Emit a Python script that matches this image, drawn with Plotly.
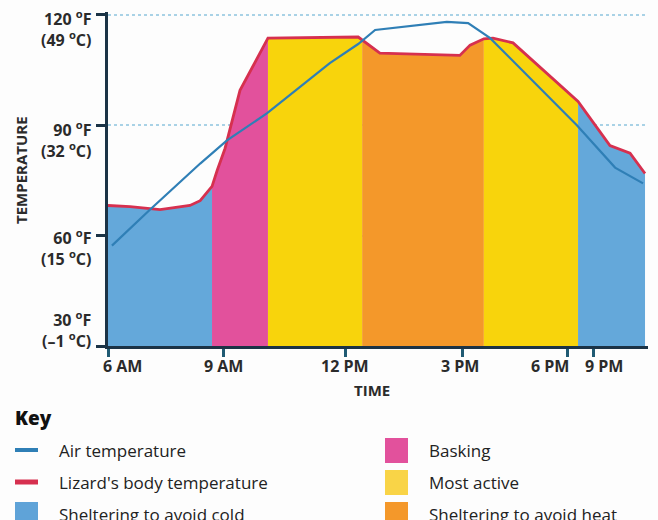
import plotly.graph_objs as go

# time axis: hours after 6 AM
tick_hours = [0.0, 2.94, 6.02, 9.01, 11.65, 12.31]
tick_labels = ['6 AM', '9 AM', '12 PM', '3 PM', '6 PM', '9 PM']
label_hours = [0.38, 2.94, 6.02, 8.93, 11.22, 12.59]

temp_ticks = [30, 60, 90, 120]
temp_labels = ['30 <sup>o</sup>F<br>(–1 <sup>o</sup>C)', '60 <sup>o</sup>F<br>(15 <sup>o</sup>C)',
               '90 <sup>o</sup>F<br>(32 <sup>o</sup>C)', '120 <sup>o</sup>F<br>(49 <sup>o</sup>C)']
temp_label_shift = [17, -12, -14, -14]

air_hours = [0.10, 1.07, 2.34, 3.02, 4.04, 5.63, 6.35, 6.78, 8.60, 9.14, 9.70, 11.90, 12.87, 13.58]
air_temp = [57.3, 67.1, 79.6, 85.9, 93.3, 106.9, 112.1, 115.9, 118.1, 117.8, 113.7, 90.0, 78.5, 74.2]

lizard_hours = [0.0, 0.56, 1.32, 2.08, 2.34, 2.64, 2.77, 2.97, 3.35, 4.06, 6.35, 6.45, 6.90,
                8.93, 9.19, 9.54, 9.77, 10.28, 10.96, 11.93, 12.74, 13.25, 13.63]
lizard_temp = [68.2, 67.9, 67.1, 68.2, 69.5, 73.4, 77.7, 83.7, 99.5, 113.7, 114.0, 113.2, 109.6,
               109.0, 111.8, 113.5, 113.7, 112.4, 105.8, 96.5, 84.5, 82.4, 76.9]

# behaviour zones (start hour, end hour, colour)
zone_start = [0.0, 2.64, 4.06, 6.45, 9.54, 11.93]
zone_end = [2.64, 4.06, 6.45, 9.54, 11.93, 13.63]
zone_color = ['#64a8da', '#e2519c', '#f8d40c', '#f4982a', '#f8d40c', '#64a8da']

key_names = ['Air temperature', "Lizard's body temperature", 'Sheltering to avoid cold',
             'Basking', 'Most active', 'Sheltering to avoid heat']
key_colors = ['#2f7fb6', '#d6304f', '#5fa3d8', '#e2519c', '#f9d447', '#f4982a']

AIR = '#2f7fb6'
LIZ = '#d6304f'
AXIS = '#1b3346'
TXT = '#2b2b2b'
FONT = 'Open Sans'

W, H = 658, 520
ML, MR, MT, MB = 108, 10, 12, 174
PX_PER_HOUR = 39.4
x_max = (W - ML - MR) / PX_PER_HOUR


def px_x(p):
    return (p - ML) / (W - ML - MR)


def px_y(p):
    return (H - MB - p) / (H - MT - MB)


data = []
for s, e, c in zip(zone_start, zone_end, zone_color):
    xs = [h for h in lizard_hours if s <= h <= e]
    ys = [t for h, t in zip(lizard_hours, lizard_temp) if s <= h <= e]
    data.append(go.Scatter(x=xs, y=ys, mode='none', fill='tozeroy', fillcolor=c,
                           showlegend=False, hoverinfo='skip'))

data.append(go.Scatter(x=lizard_hours, y=lizard_temp, mode='lines',
                       line=dict(color=LIZ, width=2.8), showlegend=False))
data.append(go.Scatter(x=air_hours, y=air_temp, mode='lines',
                       line=dict(color=AIR, width=2.2), showlegend=False))

annotations = []
for h, lab in zip(label_hours, tick_labels):
    annotations.append(dict(x=h, y=px_y(366), xref='x', yref='paper', text=lab, showarrow=False,
                            xanchor='center', yanchor='middle',
                            font=dict(family=FONT, size=16, color=TXT, weight='bold')))
for t, lab, sh in zip(temp_ticks, temp_labels, temp_label_shift):
    annotations.append(dict(x=px_x(93), y=t, xref='paper', yref='y', text=lab, showarrow=False,
                            xanchor='right', yanchor='middle', align='right', yshift=sh,
                            font=dict(family=FONT, size=16, color=TXT, weight='bold')))
annotations.append(dict(x=px_x(372), y=px_y(390), xref='paper', yref='paper', text='TIME',
                        xanchor='center', yanchor='middle', showarrow=False,
                        font=dict(family=FONT, size=15, color=TXT, weight='bold')))
annotations.append(dict(x=px_x(21), y=px_y(170), xref='paper', yref='paper', text='TEMPERATURE',
                        xanchor='center', yanchor='middle', textangle=-90, showarrow=False,
                        font=dict(family=FONT, size=15, color=TXT, weight='bold')))
annotations.append(dict(x=px_x(13), y=px_y(418), xref='paper', yref='paper', text='Key',
                        xanchor='left', yanchor='middle', showarrow=False,
                        font=dict(family=FONT, size=19, color='#111111', weight=800)))

shapes = []
row_y = [450, 482, 514]
for i, (name, col) in enumerate(zip(key_names, key_colors)):
    cx = 15 if i < 3 else 385
    tx = 57 if i < 3 else 427
    cy = row_y[i % 3]
    if i < 2:
        shapes.append(dict(type='line', xref='paper', yref='paper',
                           x0=px_x(cx), x1=px_x(cx + 23), y0=px_y(cy), y1=px_y(cy),
                           line=dict(color=col, width=4 if i == 0 else 5)))
    else:
        shapes.append(dict(type='rect', xref='paper', yref='paper',
                           x0=px_x(cx), x1=px_x(cx + 23), y0=px_y(cy - 12), y1=px_y(cy + 13),
                           fillcolor=col, line=dict(width=0)))
    annotations.append(dict(x=px_x(tx), y=px_y(cy), xref='paper', yref='paper', text=name,
                            xanchor='left', yanchor='middle', showarrow=False,
                            font=dict(family=FONT, size=17, color='#222222')))

layout = go.Layout(
    width=W, height=H,
    margin=dict(l=ML, r=MR, t=MT, b=MB),
    paper_bgcolor='#fdfdfd', plot_bgcolor='#fdfdfd',
    xaxis=dict(range=[0, x_max], tickvals=tick_hours, showticklabels=False, ticks='outside',
               ticklen=8, tickwidth=3, tickcolor='#1f5a73', showline=True, linecolor=AXIS,
               linewidth=2.5, showgrid=False, zeroline=False, fixedrange=True),
    yaxis=dict(range=[30, 120.8], tickvals=temp_ticks, showticklabels=False, ticks='outside',
               ticklen=9, tickwidth=3, tickcolor=AXIS, showline=True, linecolor=AXIS,
               linewidth=2.5, showgrid=True, gridcolor='#a9d2e6', griddash='dot', gridwidth=2,
               zeroline=False, fixedrange=True),
    annotations=annotations,
    shapes=shapes,
    hovermode='closest',
    showlegend=False,
)

fig = go.Figure(data=data, layout=layout)
# drop the browser's default page margin so the figure sits at the window's corner
fig.write_html('out.html', config={'displayModeBar': False},
               post_script="document.body.style.margin='0';")
